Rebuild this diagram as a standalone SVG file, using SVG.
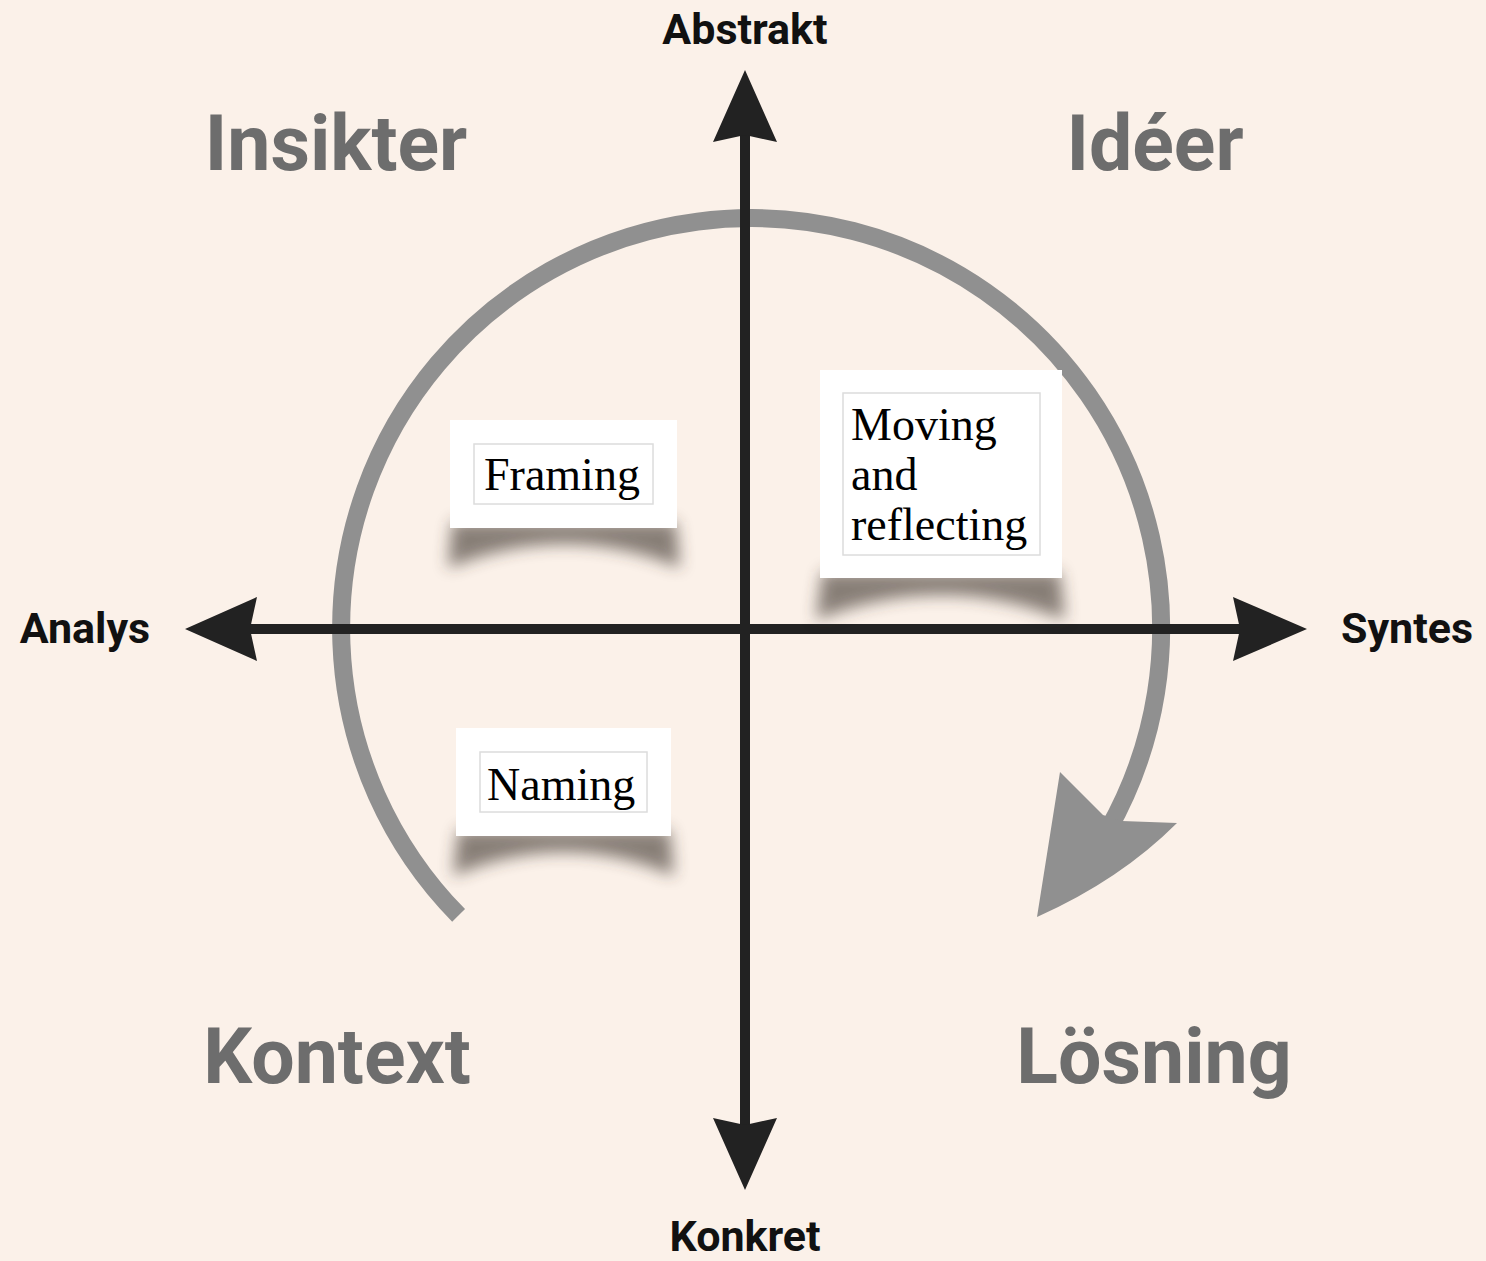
<svg xmlns="http://www.w3.org/2000/svg" width="1486" height="1261" viewBox="0 0 1486 1261">
<defs>
<style>
.axis{stroke:#222;stroke-width:10;fill:none}
.head{fill:#222}
.axlbl{font-family:Roboto,"Liberation Sans",sans-serif;font-weight:700;font-size:43px;fill:#111}
.quad{font-family:Roboto,"Liberation Sans",sans-serif;font-weight:700;font-size:77px;fill:#6d6d6d}
.card{fill:#fff}
.inner{fill:none;stroke:#dcdcdc;stroke-width:1.5}
.lbl{font-family:"Liberation Serif",serif;font-size:46px;fill:#000}
.shadow{fill:#3a322b;opacity:0.6;filter:url(#blur)}
</style>
<filter id="blur" x="-20%" y="-60%" width="140%" height="220%"><feGaussianBlur stdDeviation="8"/></filter>
</defs>
<rect width="1486" height="1261" fill="#fbf1e9"/>

<g id="cycle">
<path d="M458.6,915.4 A410,410 0 1 1 1108,830" fill="none" stroke="#909090" stroke-width="18"/>
<path d="M1037,917 L1060,772 L1103,815 L1122,821 L1177,823 Q1120,880 1037,917 Z" fill="#909090"/>
</g>

<g id="connectors">
<line class="axis" x1="745" y1="130" x2="745" y2="1130"/>
<line class="axis" x1="245" y1="629" x2="1245" y2="629"/>
<path class="head" d="M745,70 L777,142 L745,135 L713,142 Z"/>
<path class="head" d="M745,1190 L777,1118 L745,1125 L713,1118 Z"/>
<path class="head" d="M185,629 L257,597 L250,629 L257,661 Z"/>
<path class="head" d="M1307,629 L1233,597 L1240,629 L1233,661 Z"/>
</g>

<g id="axis-labels">
<text class="axlbl" x="745" y="44" text-anchor="middle">Abstrakt</text>
<text class="axlbl" x="745" y="1251" text-anchor="middle">Konkret</text>
<text class="axlbl" x="85" y="643" text-anchor="middle">Analys</text>
<text class="axlbl" x="1407" y="643" text-anchor="middle">Syntes</text>
</g>

<g id="quadrants">
<text class="quad" x="336" y="170" text-anchor="middle">Insikter</text>
<text class="quad" x="1155" y="170" text-anchor="middle">Idéer</text>
<text class="quad" x="337" y="1083" text-anchor="middle">Kontext</text>
<text class="quad" x="1154" y="1083" text-anchor="middle">Lösning</text>
</g>

<g id="framing">
<path class="shadow" d="M452,522 L676,522 L680,568 Q565,520 448,568 Z"/>
<rect class="card" x="450" y="420" width="227" height="108"/>
<rect class="inner" x="474" y="444" width="179" height="60"/>
<text class="lbl" x="484" y="490">Framing</text>
</g>

<g id="moving">
<path class="shadow" d="M822,572 L1060,572 L1065,620 Q941,570 816,620 Z"/>
<rect class="card" x="820" y="370" width="242" height="208"/>
<rect class="inner" x="843" y="393" width="197" height="162"/>
<text class="lbl" x="851" y="440">Moving</text>
<text class="lbl" x="851" y="490">and</text>
<text class="lbl" x="851" y="540">reflecting</text>
</g>

<g id="naming">
<path class="shadow" d="M458,830 L670,830 L674,876 Q564,828 453,876 Z"/>
<rect class="card" x="456" y="728" width="215" height="108"/>
<rect class="inner" x="480" y="752" width="167" height="60"/>
<text class="lbl" x="487" y="800">Naming</text>
</g>
</svg>
